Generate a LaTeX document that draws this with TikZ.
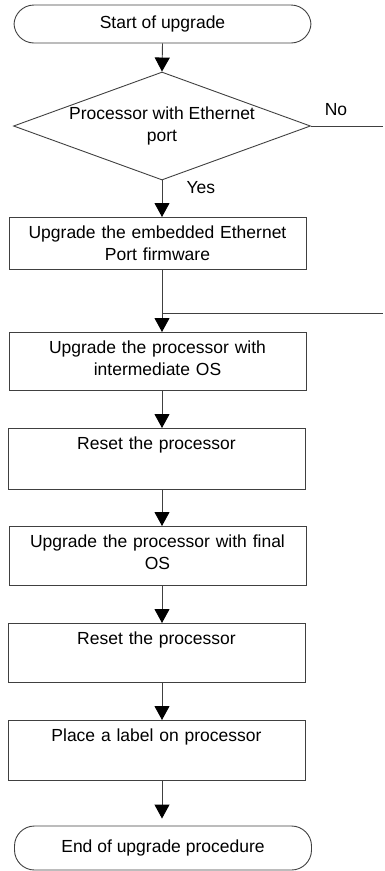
\documentclass[tikz,border=0pt]{standalone}
\usepackage{fontspec}
\setmainfont{Liberation Sans}
\usetikzlibrary{shapes.geometric}
\usetikzlibrary{arrows.meta}

\tikzset{
	line/.style={draw=black!75, line width=0.9pt},
	flow/.style={line, -{Triangle[width=15pt,length=14pt,color=black]}},
	term/.style={line, rectangle, rounded corners=20pt, minimum width=297pt, minimum height=38pt},
	decision/.style={line, diamond, aspect=2.75, inner sep=0pt, align=center, minimum width=297pt, minimum height=108pt},
	box/.style={line, rectangle, anchor=north, minimum width=297pt, text width=282pt, align=center,
		inner ysep=8.5pt, text height=12.5pt, text depth=30pt}
}

\begin{document}
\begin{tikzpicture}[x=1pt, y=-1pt, font=\fontsize{17.5}{22}\selectfont]

	\useasboundingbox (0,0) rectangle (385,871);

	% start and test
	\node[term] (start) at (162.5,24) {Start of upgrade};
	\node[decision] (dec) at (162,126) {Processor with Ethernet\\port};
	\node (no) at (336,110) {No};
	\node[anchor=west] (yes) at (183,188) {Yes};

	% steps
	\node[box, text depth=22.5pt] (fw) at (157.5,217) {Upgrade the embedded Ethernet\\Port firmware};
	\node[box, text depth=28.5pt] (inter) at (157.5,332) {Upgrade the processor with\\intermediate OS};
	\node[box, text depth=31.5pt] (reset1) at (156.5,428) {Reset the processor};
	\node[box, text depth=29.5pt] (final) at (157.5,526) {Upgrade the processor with final\\OS};
	\node[box, text depth=29.5pt] (reset2) at (156.5,623) {Reset the processor};
	\node[box, text depth=30.5pt] (label) at (156.5,720) {Place a label on processor};
	\node[term, minimum height=44pt] (end) at (163,848) {End of upgrade procedure};

	\coordinate (noend) at (383,126);
	\coordinate (merge) at (162,313);
	\coordinate (mergeend) at (383,313);

	% connectors
	\draw[flow] (start.south) -- (dec.north);
	\draw[line] (dec.east) -- (noend);
	\draw[flow] (dec.south) -- (fw.north -| dec.south);
	\draw[line] (fw.south -| dec.south) -- (merge) -- (mergeend);
	\draw[flow] (merge) -- (inter.north -| merge);
	\foreach \a/\b in {inter/reset1, reset1/final, final/reset2, reset2/label}
		\draw[flow] (\a.south -| dec.south) -- (\b.north -| dec.south);
	\draw[flow, shorten >=7pt] (label.south -| dec.south) -- (end.north -| dec.south);

\end{tikzpicture}
\end{document}
